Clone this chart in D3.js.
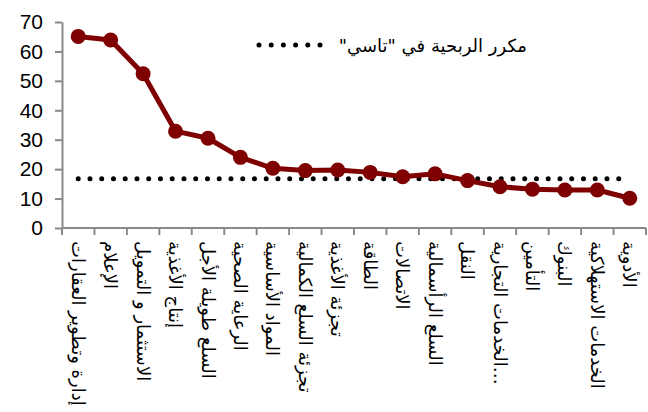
<!DOCTYPE html>
<html>
<head>
<meta charset="utf-8">
<script src="https://cdn.jsdelivr.net/npm/d3@7"></script>
<style>
  html, body { margin: 0; padding: 0; background: #fff; }
  svg { display: block; }
</style>
</head>
<body>
<svg id="chart" width="648" height="412"></svg>
<script>
// Sector P/E ratios versus the market (TASI) P/E
const sectors = [
  "إدارة وتطوير العقارات",
  "الإعلام",
  "الاستثمار و التمويل",
  "إنتاج الأغذية",
  "السلع طويلة الأجل",
  "الرعاية الصحية",
  "المواد الأساسية",
  "تجزئة السلع الكمالية",
  "تجزئة الأغذية",
  "الطاقة",
  "الاتصالات",
  "السلع الرأسمالية",
  "النقل",
  "الخدمات التجارية…",
  "التأمين",
  "البنوك",
  "الخدمات الاستهلاكية",
  "الأدوية"
];
const sectorPE = [65.1, 63.9, 52.4, 32.9, 30.5, 24.0, 20.3, 19.5, 19.7, 18.9, 17.4, 18.4, 16.1, 14.0, 13.2, 12.9, 12.9, 10.1];
const tasiPE = 16.7;
const yTicks = [0, 10, 20, 30, 40, 50, 60, 70];
const legendLabel = "مكرر الربحية في \"تاسي\"";

const svg = d3.select("#chart");
const plotLeft = 62, plotRight = 646, plotTop = 22, plotBottom = 228;

const x = d3.scaleBand().domain(sectors).range([plotLeft, plotRight]).padding(0);
const y = d3.scaleLinear().domain([0, 70]).range([plotBottom, plotTop]);

const axisColor = "#898989";

// Y axis
const yAxis = svg.append("g")
  .attr("transform", `translate(${plotLeft},0)`)
  .call(d3.axisLeft(y).tickValues(yTicks).tickSize(7).tickPadding(12).tickSizeOuter(0));
yAxis.select(".domain").attr("stroke", axisColor).attr("stroke-width", 2);
yAxis.selectAll(".tick line").attr("stroke", axisColor).attr("stroke-width", 2);
yAxis.selectAll(".tick text")
  .attr("fill", "#000")
  .style("font-family", "'Liberation Sans', Arial, sans-serif")
  .style("font-size", "21px");

// X axis with boundary ticks between categories
const xAxis = svg.append("g").attr("transform", `translate(0,${plotBottom})`);
xAxis.append("line")
  .attr("x1", plotLeft).attr("x2", plotRight)
  .attr("stroke", axisColor).attr("stroke-width", 2);
const boundaries = sectors.map(s => x(s)).concat([x(sectors[sectors.length - 1]) + x.bandwidth()]);
xAxis.selectAll("line.tk").data(boundaries).join("line")
  .attr("class", "tk")
  .attr("x1", d => d).attr("x2", d => d)
  .attr("y1", 0).attr("y2", 7)
  .attr("stroke", axisColor).attr("stroke-width", 2);

// Category labels, rotated to run down the page
xAxis.selectAll("text.cat").data(sectors).join("text")
  .attr("class", "cat")
  .attr("transform", d => `translate(${x(d) + x.bandwidth() / 2},13) rotate(90)`)
  .attr("text-anchor", "start")
  .attr("dominant-baseline", "central")
  .style("font-family", "'DejaVu Sans', sans-serif")
  .style("font-size", "18px")
  .attr("fill", "#000")
  .text(d => d);

// TASI P/E reference line (dotted)
const cx = d => x(d) + x.bandwidth() / 2;
svg.append("line")
  .attr("x1", cx(sectors[0]))
  .attr("x2", cx(sectors[sectors.length - 1]) - 9)
  .attr("y1", y(tasiPE)).attr("y2", y(tasiPE))
  .attr("stroke", "#000")
  .attr("stroke-width", 5)
  .attr("stroke-linecap", "round")
  .attr("stroke-dasharray", "0 11.75");

// Sector P/E line with markers
const line = d3.line().x((d, i) => cx(sectors[i])).y(d => y(d));
svg.append("path")
  .datum(sectorPE)
  .attr("d", line)
  .attr("fill", "none")
  .attr("stroke", "#7f0000")
  .attr("stroke-width", 5)
  .attr("stroke-linejoin", "round");
svg.selectAll("circle.pt").data(sectorPE).join("circle")
  .attr("class", "pt")
  .attr("cx", (d, i) => cx(sectors[i]))
  .attr("cy", d => y(d))
  .attr("r", 7.5)
  .attr("fill", "#7f0000");

// Legend
const lg = svg.append("g");
lg.append("line")
  .attr("x1", 259).attr("x2", 320)
  .attr("y1", 45).attr("y2", 45)
  .attr("stroke", "#000")
  .attr("stroke-width", 5)
  .attr("stroke-linecap", "round")
  .attr("stroke-dasharray", "0 12.2");
lg.append("text")
  .attr("x", 527).attr("y", 52)
  .attr("direction", "rtl")
  .attr("text-anchor", "start")
  .style("font-family", "'DejaVu Sans', sans-serif")
  .style("font-size", "18px")
  .attr("fill", "#000")
  .text(legendLabel);
</script>
</body>
</html>
